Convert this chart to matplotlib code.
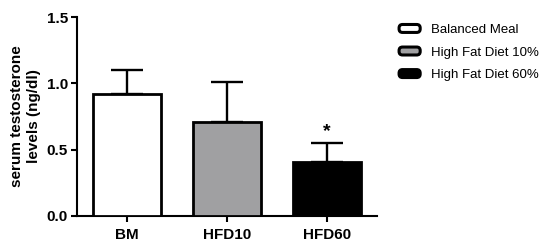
import matplotlib
matplotlib.use('Agg')
import matplotlib.pyplot as plt
import numpy as np
from matplotlib.legend_handler import HandlerPatch
from matplotlib.patches import FancyBboxPatch, Rectangle

# data
groups = ["BM", "HFD10", "HFD60"]
means = [0.92, 0.71, 0.405]
sem = [0.18, 0.30, 0.145]
legend_labels = ["Balanced Meal", "High Fat Diet 10%", "High Fat Diet 60%"]
fills = ["white", "#a0a0a2", "black"]
stars = ["", "", "*"]

plt.rcParams['font.family'] = ['Liberation Sans', 'DejaVu Sans']


def rounded_key(legend, orig_handle, xdescent, ydescent, width, height, fontsize):
    # legend keys with rounded corners, like the original
    return FancyBboxPatch((-xdescent, -ydescent), width, height,
                          boxstyle="round,pad=0,rounding_size=2.5")


fig = plt.figure(figsize=(5.5, 2.45), dpi=100)
ax = fig.add_axes([0.14, 0.1184, 0.546, 0.8122])

x = np.arange(len(groups))
bars = ax.bar(x, means, width=0.68, color=fills, edgecolor="black",
              linewidth=2.0, label=legend_labels, zorder=3)
ax.errorbar(x, means, yerr=[np.zeros(len(sem)), sem], fmt="none",
            ecolor="black", elinewidth=1.7, capsize=11.5, capthick=1.7, zorder=2)

for xi, m, s, st in zip(x, means, sem, stars):
    if st:
        ax.text(xi, m + s + 0.02, st, ha="center", va="bottom",
                fontsize=14, fontweight="bold")

ax.set_xlim(-0.5, 2.5)
ax.set_ylim(0, 1.5)
ax.set_yticks([0.0, 0.5, 1.0, 1.5])
ax.set_yticklabels(["0.0", "0.5", "1.0", "1.5"])
ax.set_xticks(x)
ax.set_xticklabels(groups)

for lab in ax.get_xticklabels() + ax.get_yticklabels():
    lab.set_fontweight("bold")
    lab.set_fontsize(11)

ax.tick_params(axis="both", direction="out", width=1.5, length=4.5, pad=2)
ax.tick_params(axis="x", pad=4)
for side in ["top", "right"]:
    ax.spines[side].set_visible(False)
for side in ["left", "bottom"]:
    ax.spines[side].set_linewidth(1.5)

ax.set_ylabel("serum testosterone\nlevels (ng/dl)", fontsize=11,
              fontweight="bold", labelpad=4, linespacing=1.3)

leg = ax.legend(handles=list(bars), labels=legend_labels, loc="upper left",
                bbox_to_anchor=(0.704, 0.95), bbox_transform=fig.transFigure,
                frameon=False, fontsize=9.5, handlelength=1.6, handleheight=0.55,
                handletextpad=0.8, labelspacing=0.8,
                handler_map={Rectangle: HandlerPatch(patch_func=rounded_key)})
for p in leg.get_patches():
    p.set_linewidth(2.2)

fig.savefig("out.png", dpi=100)
